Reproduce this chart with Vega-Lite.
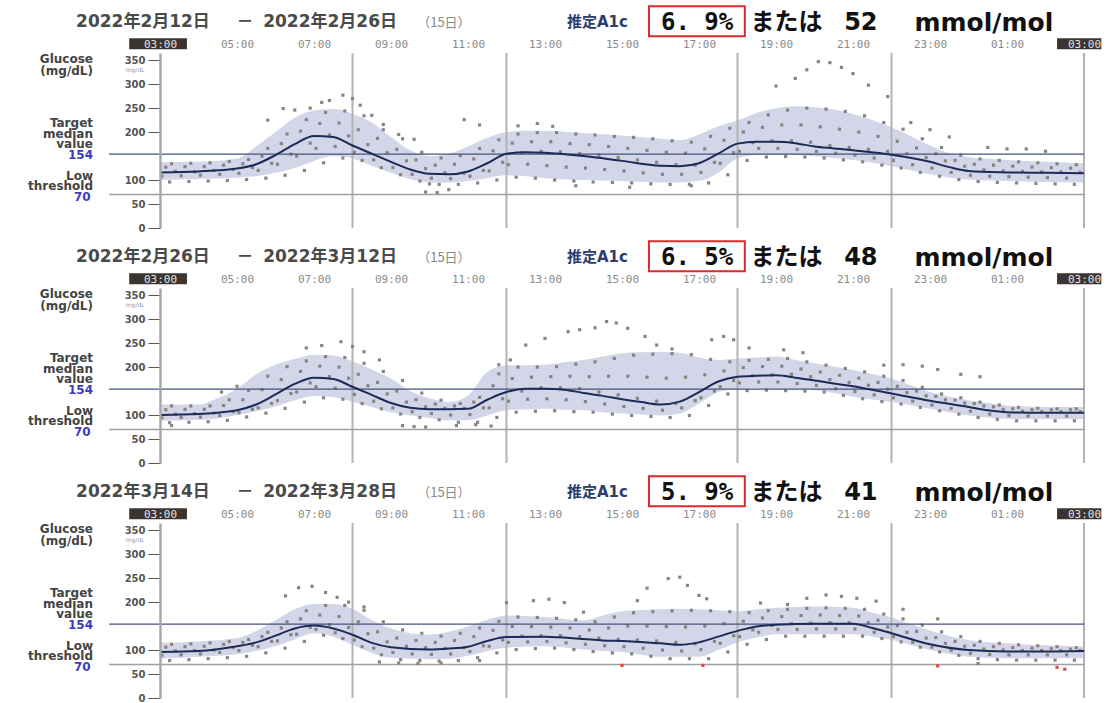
{
"$schema": "https://vega.github.io/schema/vega-lite/v6.json",
"padding": {"left": 28, "top": 5, "right": 0, "bottom": 0},
"config": {"view": {"stroke": null}},
"datasets": {"d": [
{"p":1,"d1":"2022年2月12日","d2":"2022年2月26日","a":"6. 9%","m":"52"},
{"p":2,"d1":"2022年2月26日","d2":"2022年3月12日","a":"6. 5%","m":"48"},
{"p":3,"d1":"2022年3月14日","d2":"2022年3月28日","a":"5. 9%","m":"41"},
{"p":1,"v":8},{"p":1,"v":12},{"p":1,"v":18},{"p":1,"v":22},{"p":1,"v":27},
{"p":2,"v":8},{"p":2,"v":12},{"p":2,"v":18},{"p":2,"v":22},{"p":2,"v":27},
{"p":3,"v":8},{"p":3,"v":12},{"p":3,"v":18},{"p":3,"v":22},{"p":3,"v":27},
{"p":1,"h":3,"lo":100,"md":116,"hi":137},{"p":1,"h":4,"lo":102,"md":118,"hi":138},{"p":1,"h":5,"lo":105,"md":124,"hi":145},{"p":1,"h":5.5,"lo":108,"md":133,"hi":170},{"p":1,"h":6,"lo":115,"md":152,"hi":200},{"p":1,"h":6.5,"lo":125,"md":175,"hi":230},{"p":1,"h":7,"lo":140,"md":192,"hi":245},{"p":1,"h":7.5,"lo":150,"md":190,"hi":248},{"p":1,"h":8,"lo":145,"md":172,"hi":238},{"p":1,"h":8.5,"lo":130,"md":155,"hi":220},{"p":1,"h":9,"lo":115,"md":138,"hi":190},{"p":1,"h":9.5,"lo":102,"md":122,"hi":162},{"p":1,"h":10,"lo":95,"md":113,"hi":150},{"p":1,"h":10.5,"lo":95,"md":112,"hi":155},{"p":1,"h":11,"lo":98,"md":118,"hi":170},{"p":1,"h":11.5,"lo":104,"md":135,"hi":188},{"p":1,"h":12,"lo":110,"md":155,"hi":200},{"p":1,"h":12.5,"lo":108,"md":158,"hi":203},{"p":1,"h":13,"lo":104,"md":157,"hi":203},{"p":1,"h":14,"lo":100,"md":150,"hi":198},{"p":1,"h":15,"lo":98,"md":140,"hi":193},{"p":1,"h":16,"lo":95,"md":130,"hi":186},{"p":1,"h":16.5,"lo":95,"md":129,"hi":183},{"p":1,"h":17,"lo":98,"md":135,"hi":195},{"p":1,"h":17.5,"lo":115,"md":155,"hi":212},{"p":1,"h":18,"lo":145,"md":176,"hi":224},{"p":1,"h":18.5,"lo":152,"md":180,"hi":240},{"p":1,"h":19,"lo":153,"md":180,"hi":250},{"p":1,"h":19.5,"lo":152,"md":177,"hi":254},{"p":1,"h":20,"lo":150,"md":170,"hi":252},{"p":1,"h":20.5,"lo":146,"md":166,"hi":247},{"p":1,"h":21,"lo":142,"md":162,"hi":238},{"p":1,"h":22,"lo":129,"md":153,"hi":210},{"p":1,"h":23,"lo":112,"md":138,"hi":172},{"p":1,"h":23.5,"lo":105,"md":127,"hi":156},{"p":1,"h":24,"lo":101,"md":119,"hi":148},{"p":1,"h":25,"lo":98,"md":116,"hi":142},{"p":1,"h":26,"lo":96,"md":115,"hi":138},{"p":1,"h":27,"lo":95,"md":114,"hi":135},
{"p":2,"h":3,"lo":88,"md":100,"hi":122},{"p":2,"h":4,"lo":90,"md":102,"hi":122},{"p":2,"h":4.5,"lo":93,"md":105,"hi":135},{"p":2,"h":5,"lo":100,"md":110,"hi":155},{"p":2,"h":5.5,"lo":108,"md":122,"hi":185},{"p":2,"h":6,"lo":118,"md":143,"hi":205},{"p":2,"h":6.5,"lo":131,"md":165,"hi":217},{"p":2,"h":7,"lo":140,"md":178,"hi":226},{"p":2,"h":7.5,"lo":137,"md":175,"hi":224},{"p":2,"h":8,"lo":128,"md":159,"hi":212},{"p":2,"h":8.5,"lo":117,"md":142,"hi":195},{"p":2,"h":9,"lo":106,"md":125,"hi":176},{"p":2,"h":9.5,"lo":99,"md":115,"hi":150},{"p":2,"h":10,"lo":94,"md":112,"hi":135},{"p":2,"h":10.5,"lo":89,"md":112,"hi":127},{"p":2,"h":11,"lo":89,"md":113,"hi":141},{"p":2,"h":11.5,"lo":99,"md":132,"hi":190},{"p":2,"h":12,"lo":110,"md":148,"hi":204},{"p":2,"h":12.5,"lo":112,"md":155,"hi":204},{"p":2,"h":13,"lo":113,"md":155,"hi":205},{"p":2,"h":13.5,"lo":111,"md":153,"hi":210},{"p":2,"h":14,"lo":110,"md":146,"hi":215},{"p":2,"h":14.5,"lo":106,"md":140,"hi":222},{"p":2,"h":15,"lo":103,"md":133,"hi":229},{"p":2,"h":15.5,"lo":101,"md":127,"hi":231},{"p":2,"h":16,"lo":99,"md":122,"hi":232},{"p":2,"h":16.5,"lo":103,"md":128,"hi":230},{"p":2,"h":17,"lo":124,"md":148,"hi":220},{"p":2,"h":17.5,"lo":148,"md":170,"hi":215},{"p":2,"h":18,"lo":155,"md":180,"hi":218},{"p":2,"h":18.5,"lo":156,"md":182,"hi":220},{"p":2,"h":19,"lo":155,"md":183,"hi":222},{"p":2,"h":19.5,"lo":154,"md":178,"hi":215},{"p":2,"h":20,"lo":152,"md":172,"hi":208},{"p":2,"h":21,"lo":138,"md":160,"hi":194},{"p":2,"h":22,"lo":127,"md":145,"hi":176},{"p":2,"h":23,"lo":113,"md":130,"hi":148},{"p":2,"h":24,"lo":99,"md":117,"hi":131},{"p":2,"h":24.5,"lo":95,"md":110,"hi":125},{"p":2,"h":25,"lo":92,"md":106,"hi":120},{"p":2,"h":26,"lo":92,"md":105,"hi":117},{"p":2,"h":27,"lo":92,"md":105,"hi":117},
{"p":3,"h":3,"lo":82,"md":96,"hi":115},{"p":3,"h":4,"lo":86,"md":98,"hi":118},{"p":3,"h":5,"lo":91,"md":108,"hi":125},{"p":3,"h":5.5,"lo":98,"md":116,"hi":140},{"p":3,"h":6,"lo":108,"md":130,"hi":162},{"p":3,"h":6.5,"lo":122,"md":145,"hi":185},{"p":3,"h":7,"lo":135,"md":151,"hi":196},{"p":3,"h":7.5,"lo":128,"md":145,"hi":196},{"p":3,"h":8,"lo":111,"md":132,"hi":186},{"p":3,"h":8.5,"lo":94,"md":115,"hi":162},{"p":3,"h":9,"lo":84,"md":106,"hi":145},{"p":3,"h":10,"lo":81,"md":101,"hi":132},{"p":3,"h":10.5,"lo":82,"md":103,"hi":138},{"p":3,"h":11,"lo":88,"md":107,"hi":149},{"p":3,"h":11.5,"lo":98,"md":119,"hi":163},{"p":3,"h":12,"lo":105,"md":127,"hi":172},{"p":3,"h":13,"lo":108,"md":128,"hi":169},{"p":3,"h":14,"lo":101,"md":123,"hi":162},{"p":3,"h":14.5,"lo":98,"md":120,"hi":172},{"p":3,"h":15,"lo":96,"md":119,"hi":181},{"p":3,"h":16,"lo":86,"md":114,"hi":185},{"p":3,"h":16.5,"lo":86,"md":111,"hi":186},{"p":3,"h":17,"lo":86,"md":116,"hi":185},{"p":3,"h":17.5,"lo":100,"md":128,"hi":183},{"p":3,"h":18,"lo":116,"md":140,"hi":181},{"p":3,"h":18.5,"lo":126,"md":149,"hi":185},{"p":3,"h":19,"lo":133,"md":153,"hi":188},{"p":3,"h":20,"lo":133,"md":155,"hi":191},{"p":3,"h":21,"lo":133,"md":155,"hi":188},{"p":3,"h":21.5,"lo":128,"md":146,"hi":178},{"p":3,"h":22,"lo":121,"md":135,"hi":168},{"p":3,"h":23,"lo":100,"md":112,"hi":141},{"p":3,"h":24,"lo":86,"md":100,"hi":121},{"p":3,"h":25,"lo":83,"md":97,"hi":114},{"p":3,"h":26,"lo":83,"md":97,"hi":110},{"p":3,"h":27,"lo":83,"md":98,"hi":107},
{"p":1,"h":3.25,"g":96},{"p":1,"h":3.05,"g":108},{"p":1,"h":3.4,"g":118},{"p":1,"h":3.15,"g":127},{"p":1,"h":3.3,"g":134},
{"p":1,"h":3.75,"g":97},{"p":1,"h":3.55,"g":109},{"p":1,"h":3.9,"g":117},{"p":1,"h":3.65,"g":128},{"p":1,"h":3.8,"g":135},
{"p":1,"h":4.25,"g":98},{"p":1,"h":4.05,"g":110},{"p":1,"h":4.4,"g":120},{"p":1,"h":4.15,"g":128},{"p":1,"h":4.3,"g":136},
{"p":1,"h":4.75,"g":99},{"p":1,"h":4.55,"g":112},{"p":1,"h":4.9,"g":122},{"p":1,"h":4.65,"g":131},{"p":1,"h":4.8,"g":139},
{"p":1,"h":5.25,"g":101},{"p":1,"h":5.05,"g":114},{"p":1,"h":5.4,"g":126},{"p":1,"h":5.15,"g":134},{"p":1,"h":5.3,"g":143},
{"p":1,"h":5.75,"g":104},{"p":1,"h":5.55,"g":120},{"p":1,"h":5.9,"g":135},{"p":1,"h":5.65,"g":150},{"p":1,"h":5.8,"g":166},
{"p":1,"h":6.25,"g":110},{"p":1,"h":6.05,"g":133},{"p":1,"h":6.4,"g":154},{"p":1,"h":6.15,"g":176},{"p":1,"h":6.3,"g":196},
{"p":1,"h":6.75,"g":120},{"p":1,"h":6.55,"g":150},{"p":1,"h":6.9,"g":177},{"p":1,"h":6.65,"g":202},{"p":1,"h":6.8,"g":226},
{"p":1,"h":7.25,"g":136},{"p":1,"h":7.05,"g":166},{"p":1,"h":7.4,"g":194},{"p":1,"h":7.15,"g":218},{"p":1,"h":7.3,"g":241},
{"p":1,"h":7.75,"g":146},{"p":1,"h":7.55,"g":170},{"p":1,"h":7.9,"g":192},{"p":1,"h":7.65,"g":219},{"p":1,"h":7.8,"g":244},
{"p":1,"h":8.25,"g":141},{"p":1,"h":8.05,"g":158},{"p":1,"h":8.4,"g":174},{"p":1,"h":8.15,"g":205},{"p":1,"h":8.3,"g":234},
{"p":1,"h":8.75,"g":126},{"p":1,"h":8.55,"g":142},{"p":1,"h":8.9,"g":157},{"p":1,"h":8.65,"g":187},{"p":1,"h":8.8,"g":216},
{"p":1,"h":9.25,"g":111},{"p":1,"h":9.05,"g":126},{"p":1,"h":9.4,"g":140},{"p":1,"h":9.15,"g":164},{"p":1,"h":9.3,"g":186},
{"p":1,"h":9.75,"g":98},{"p":1,"h":9.55,"g":112},{"p":1,"h":9.9,"g":124},{"p":1,"h":9.65,"g":142},{"p":1,"h":9.8,"g":158},
{"p":1,"h":10.25,"g":91},{"p":1,"h":10.05,"g":104},{"p":1,"h":10.4,"g":115},{"p":1,"h":10.15,"g":131},{"p":1,"h":10.3,"g":146},
{"p":1,"h":10.75,"g":91},{"p":1,"h":10.55,"g":103},{"p":1,"h":10.9,"g":114},{"p":1,"h":10.65,"g":133},{"p":1,"h":10.8,"g":151},
{"p":1,"h":11.25,"g":94},{"p":1,"h":11.05,"g":108},{"p":1,"h":11.4,"g":120},{"p":1,"h":11.15,"g":144},{"p":1,"h":11.3,"g":166},
{"p":1,"h":11.75,"g":100},{"p":1,"h":11.55,"g":119},{"p":1,"h":11.9,"g":137},{"p":1,"h":11.65,"g":161},{"p":1,"h":11.8,"g":184},
{"p":1,"h":12.25,"g":106},{"p":1,"h":12.05,"g":132},{"p":1,"h":12.4,"g":157},{"p":1,"h":12.15,"g":177},{"p":1,"h":12.3,"g":196},
{"p":1,"h":12.75,"g":104},{"p":1,"h":12.55,"g":133},{"p":1,"h":12.9,"g":160},{"p":1,"h":12.65,"g":180},{"p":1,"h":12.8,"g":199},
{"p":1,"h":13.25,"g":100},{"p":1,"h":13.05,"g":130},{"p":1,"h":13.4,"g":159},{"p":1,"h":13.15,"g":180},{"p":1,"h":13.3,"g":199},
{"p":1,"h":13.75,"g":98},{"p":1,"h":13.55,"g":127},{"p":1,"h":13.9,"g":155},{"p":1,"h":13.65,"g":176},{"p":1,"h":13.8,"g":196},
{"p":1,"h":14.25,"g":96},{"p":1,"h":14.05,"g":125},{"p":1,"h":14.4,"g":152},{"p":1,"h":14.15,"g":174},{"p":1,"h":14.3,"g":194},
{"p":1,"h":14.75,"g":95},{"p":1,"h":14.55,"g":122},{"p":1,"h":14.9,"g":147},{"p":1,"h":14.65,"g":170},{"p":1,"h":14.8,"g":191},
{"p":1,"h":15.25,"g":94},{"p":1,"h":15.05,"g":119},{"p":1,"h":15.4,"g":142},{"p":1,"h":15.15,"g":166},{"p":1,"h":15.3,"g":189},
{"p":1,"h":15.75,"g":92},{"p":1,"h":15.55,"g":115},{"p":1,"h":15.9,"g":137},{"p":1,"h":15.65,"g":162},{"p":1,"h":15.8,"g":186},
{"p":1,"h":16.25,"g":91},{"p":1,"h":16.05,"g":112},{"p":1,"h":16.4,"g":132},{"p":1,"h":16.15,"g":158},{"p":1,"h":16.3,"g":182},
{"p":1,"h":16.75,"g":91},{"p":1,"h":16.55,"g":112},{"p":1,"h":16.9,"g":131},{"p":1,"h":16.65,"g":156},{"p":1,"h":16.8,"g":179},
{"p":1,"h":17.25,"g":94},{"p":1,"h":17.05,"g":116},{"p":1,"h":17.4,"g":137},{"p":1,"h":17.15,"g":165},{"p":1,"h":17.3,"g":191},
{"p":1,"h":17.75,"g":111},{"p":1,"h":17.55,"g":135},{"p":1,"h":17.9,"g":157},{"p":1,"h":17.65,"g":183},{"p":1,"h":17.8,"g":208},
{"p":1,"h":18.25,"g":141},{"p":1,"h":18.05,"g":160},{"p":1,"h":18.4,"g":178},{"p":1,"h":18.15,"g":200},{"p":1,"h":18.3,"g":220},
{"p":1,"h":18.75,"g":148},{"p":1,"h":18.55,"g":166},{"p":1,"h":18.9,"g":182},{"p":1,"h":18.65,"g":210},{"p":1,"h":18.8,"g":236},
{"p":1,"h":19.25,"g":149},{"p":1,"h":19.05,"g":166},{"p":1,"h":19.4,"g":182},{"p":1,"h":19.15,"g":215},{"p":1,"h":19.3,"g":246},
{"p":1,"h":19.75,"g":148},{"p":1,"h":19.55,"g":164},{"p":1,"h":19.9,"g":179},{"p":1,"h":19.65,"g":215},{"p":1,"h":19.8,"g":250},
{"p":1,"h":20.25,"g":146},{"p":1,"h":20.05,"g":160},{"p":1,"h":20.4,"g":172},{"p":1,"h":20.15,"g":211},{"p":1,"h":20.3,"g":248},
{"p":1,"h":20.75,"g":142},{"p":1,"h":20.55,"g":156},{"p":1,"h":20.9,"g":168},{"p":1,"h":20.65,"g":206},{"p":1,"h":20.8,"g":243},
{"p":1,"h":21.25,"g":138},{"p":1,"h":21.05,"g":152},{"p":1,"h":21.4,"g":164},{"p":1,"h":21.15,"g":200},{"p":1,"h":21.3,"g":234},
{"p":1,"h":21.75,"g":131},{"p":1,"h":21.55,"g":146},{"p":1,"h":21.9,"g":160},{"p":1,"h":21.65,"g":191},{"p":1,"h":21.8,"g":220},
{"p":1,"h":22.25,"g":125},{"p":1,"h":22.05,"g":141},{"p":1,"h":22.4,"g":155},{"p":1,"h":22.15,"g":181},{"p":1,"h":22.3,"g":206},
{"p":1,"h":22.75,"g":116},{"p":1,"h":22.55,"g":132},{"p":1,"h":22.9,"g":147},{"p":1,"h":22.65,"g":167},{"p":1,"h":22.8,"g":186},
{"p":1,"h":23.25,"g":108},{"p":1,"h":23.05,"g":125},{"p":1,"h":23.4,"g":140},{"p":1,"h":23.15,"g":155},{"p":1,"h":23.3,"g":168},
{"p":1,"h":23.75,"g":101},{"p":1,"h":23.55,"g":116},{"p":1,"h":23.9,"g":129},{"p":1,"h":23.65,"g":141},{"p":1,"h":23.8,"g":152},
{"p":1,"h":24.25,"g":97},{"p":1,"h":24.05,"g":110},{"p":1,"h":24.4,"g":121},{"p":1,"h":24.15,"g":133},{"p":1,"h":24.3,"g":144},
{"p":1,"h":24.75,"g":95},{"p":1,"h":24.55,"g":108},{"p":1,"h":24.9,"g":119},{"p":1,"h":24.65,"g":131},{"p":1,"h":24.8,"g":141},
{"p":1,"h":25.25,"g":94},{"p":1,"h":25.05,"g":107},{"p":1,"h":25.4,"g":118},{"p":1,"h":25.15,"g":129},{"p":1,"h":25.3,"g":138},
{"p":1,"h":25.75,"g":93},{"p":1,"h":25.55,"g":106},{"p":1,"h":25.9,"g":117},{"p":1,"h":25.65,"g":127},{"p":1,"h":25.8,"g":136},
{"p":1,"h":26.25,"g":92},{"p":1,"h":26.05,"g":105},{"p":1,"h":26.4,"g":117},{"p":1,"h":26.15,"g":126},{"p":1,"h":26.3,"g":134},
{"p":1,"h":26.75,"g":91},{"p":1,"h":26.55,"g":104},{"p":1,"h":26.9,"g":116},{"p":1,"h":26.65,"g":125},{"p":1,"h":26.8,"g":132},
{"p":1,"h":5.8,"g":225},{"p":1,"h":6.2,"g":249},{"p":1,"h":6.5,"g":246},{"p":1,"h":6.9,"g":250},{"p":1,"h":7.2,"g":262},{"p":1,"h":7.4,"g":266},{"p":1,"h":7.75,"g":277},{"p":1,"h":8.0,"g":270},{"p":1,"h":8.2,"g":256},{"p":1,"h":8.5,"g":235},{"p":1,"h":8.8,"g":205},{"p":1,"h":9.2,"g":195},{"p":1,"h":9.6,"g":185},{"p":1,"h":9.9,"g":75},{"p":1,"h":10.2,"g":74},{"p":1,"h":10.5,"g":80},{"p":1,"h":10.9,"g":226},{"p":1,"h":11.3,"g":215},{"p":1,"h":12.3,"g":213},{"p":1,"h":12.8,"g":218},{"p":1,"h":13.2,"g":212},{"p":1,"h":15.2,"g":85},{"p":1,"h":16.8,"g":88},{"p":1,"h":19.0,"g":296},{"p":1,"h":19.5,"g":312},{"p":1,"h":19.8,"g":330},{"p":1,"h":20.1,"g":347},{"p":1,"h":20.4,"g":345},{"p":1,"h":20.7,"g":335},{"p":1,"h":21.0,"g":322},{"p":1,"h":21.4,"g":298},{"p":1,"h":21.9,"g":274},{"p":1,"h":22.5,"g":220},{"p":1,"h":23.0,"g":205},{"p":1,"h":23.5,"g":190},{"p":1,"h":24.5,"g":168},{"p":1,"h":25.0,"g":165},{"p":1,"h":25.5,"g":165},{"p":1,"h":26.0,"g":160},{"p":1,"h":10.0,"g":92},{"p":1,"h":13.8,"g":88},
{"p":2,"h":3.25,"g":84},{"p":2,"h":3.05,"g":94},{"p":2,"h":3.4,"g":102},{"p":2,"h":3.15,"g":111},{"p":2,"h":3.3,"g":119},
{"p":2,"h":3.75,"g":85},{"p":2,"h":3.55,"g":95},{"p":2,"h":3.9,"g":103},{"p":2,"h":3.65,"g":112},{"p":2,"h":3.8,"g":119},
{"p":2,"h":4.25,"g":86},{"p":2,"h":4.05,"g":96},{"p":2,"h":4.4,"g":104},{"p":2,"h":4.15,"g":112},{"p":2,"h":4.3,"g":119},
{"p":2,"h":4.75,"g":89},{"p":2,"h":4.55,"g":99},{"p":2,"h":4.9,"g":107},{"p":2,"h":4.65,"g":120},{"p":2,"h":4.8,"g":132},
{"p":2,"h":5.25,"g":96},{"p":2,"h":5.05,"g":105},{"p":2,"h":5.4,"g":112},{"p":2,"h":5.15,"g":132},{"p":2,"h":5.3,"g":151},
{"p":2,"h":5.75,"g":104},{"p":2,"h":5.55,"g":115},{"p":2,"h":5.9,"g":124},{"p":2,"h":5.65,"g":153},{"p":2,"h":5.8,"g":181},
{"p":2,"h":6.25,"g":114},{"p":2,"h":6.05,"g":130},{"p":2,"h":6.4,"g":145},{"p":2,"h":6.15,"g":174},{"p":2,"h":6.3,"g":201},
{"p":2,"h":6.75,"g":127},{"p":2,"h":6.55,"g":148},{"p":2,"h":6.9,"g":167},{"p":2,"h":6.65,"g":191},{"p":2,"h":6.8,"g":213},
{"p":2,"h":7.25,"g":136},{"p":2,"h":7.05,"g":159},{"p":2,"h":7.4,"g":180},{"p":2,"h":7.15,"g":202},{"p":2,"h":7.3,"g":222},
{"p":2,"h":7.75,"g":133},{"p":2,"h":7.55,"g":156},{"p":2,"h":7.9,"g":177},{"p":2,"h":7.65,"g":200},{"p":2,"h":7.8,"g":220},
{"p":2,"h":8.25,"g":124},{"p":2,"h":8.05,"g":143},{"p":2,"h":8.4,"g":161},{"p":2,"h":8.15,"g":185},{"p":2,"h":8.3,"g":208},
{"p":2,"h":8.75,"g":113},{"p":2,"h":8.55,"g":129},{"p":2,"h":8.9,"g":144},{"p":2,"h":8.65,"g":168},{"p":2,"h":8.8,"g":191},
{"p":2,"h":9.25,"g":102},{"p":2,"h":9.05,"g":115},{"p":2,"h":9.4,"g":127},{"p":2,"h":9.15,"g":150},{"p":2,"h":9.3,"g":172},
{"p":2,"h":9.75,"g":95},{"p":2,"h":9.55,"g":107},{"p":2,"h":9.9,"g":117},{"p":2,"h":9.65,"g":132},{"p":2,"h":9.8,"g":146},
{"p":2,"h":10.25,"g":90},{"p":2,"h":10.05,"g":103},{"p":2,"h":10.4,"g":114},{"p":2,"h":10.15,"g":123},{"p":2,"h":10.3,"g":131},
{"p":2,"h":10.75,"g":85},{"p":2,"h":10.55,"g":100},{"p":2,"h":10.9,"g":114},{"p":2,"h":10.65,"g":119},{"p":2,"h":10.8,"g":124},
{"p":2,"h":11.25,"g":85},{"p":2,"h":11.05,"g":101},{"p":2,"h":11.4,"g":115},{"p":2,"h":11.15,"g":127},{"p":2,"h":11.3,"g":137},
{"p":2,"h":11.75,"g":95},{"p":2,"h":11.55,"g":115},{"p":2,"h":11.9,"g":134},{"p":2,"h":11.65,"g":161},{"p":2,"h":11.8,"g":186},
{"p":2,"h":12.25,"g":106},{"p":2,"h":12.05,"g":129},{"p":2,"h":12.4,"g":150},{"p":2,"h":12.15,"g":176},{"p":2,"h":12.3,"g":200},
{"p":2,"h":12.75,"g":108},{"p":2,"h":12.55,"g":133},{"p":2,"h":12.9,"g":157},{"p":2,"h":12.65,"g":179},{"p":2,"h":12.8,"g":200},
{"p":2,"h":13.25,"g":109},{"p":2,"h":13.05,"g":134},{"p":2,"h":13.4,"g":157},{"p":2,"h":13.15,"g":180},{"p":2,"h":13.3,"g":201},
{"p":2,"h":13.75,"g":107},{"p":2,"h":13.55,"g":132},{"p":2,"h":13.9,"g":155},{"p":2,"h":13.65,"g":181},{"p":2,"h":13.8,"g":206},
{"p":2,"h":14.25,"g":106},{"p":2,"h":14.05,"g":128},{"p":2,"h":14.4,"g":148},{"p":2,"h":14.15,"g":180},{"p":2,"h":14.3,"g":211},
{"p":2,"h":14.75,"g":102},{"p":2,"h":14.55,"g":123},{"p":2,"h":14.9,"g":142},{"p":2,"h":14.65,"g":181},{"p":2,"h":14.8,"g":218},
{"p":2,"h":15.25,"g":99},{"p":2,"h":15.05,"g":118},{"p":2,"h":15.4,"g":135},{"p":2,"h":15.15,"g":181},{"p":2,"h":15.3,"g":225},
{"p":2,"h":15.75,"g":97},{"p":2,"h":15.55,"g":114},{"p":2,"h":15.9,"g":129},{"p":2,"h":15.65,"g":179},{"p":2,"h":15.8,"g":227},
{"p":2,"h":16.25,"g":95},{"p":2,"h":16.05,"g":110},{"p":2,"h":16.4,"g":124},{"p":2,"h":16.15,"g":177},{"p":2,"h":16.3,"g":228},
{"p":2,"h":16.75,"g":99},{"p":2,"h":16.55,"g":115},{"p":2,"h":16.9,"g":130},{"p":2,"h":16.65,"g":179},{"p":2,"h":16.8,"g":226},
{"p":2,"h":17.25,"g":120},{"p":2,"h":17.05,"g":136},{"p":2,"h":17.4,"g":150},{"p":2,"h":17.15,"g":184},{"p":2,"h":17.3,"g":216},
{"p":2,"h":17.75,"g":144},{"p":2,"h":17.55,"g":159},{"p":2,"h":17.9,"g":172},{"p":2,"h":17.65,"g":192},{"p":2,"h":17.8,"g":211},
{"p":2,"h":18.25,"g":151},{"p":2,"h":18.05,"g":167},{"p":2,"h":18.4,"g":182},{"p":2,"h":18.15,"g":199},{"p":2,"h":18.3,"g":214},
{"p":2,"h":18.75,"g":152},{"p":2,"h":18.55,"g":169},{"p":2,"h":18.9,"g":184},{"p":2,"h":18.65,"g":201},{"p":2,"h":18.8,"g":216},
{"p":2,"h":19.25,"g":151},{"p":2,"h":19.05,"g":169},{"p":2,"h":19.4,"g":185},{"p":2,"h":19.15,"g":202},{"p":2,"h":19.3,"g":218},
{"p":2,"h":19.75,"g":150},{"p":2,"h":19.55,"g":166},{"p":2,"h":19.9,"g":180},{"p":2,"h":19.65,"g":196},{"p":2,"h":19.8,"g":211},
{"p":2,"h":20.25,"g":148},{"p":2,"h":20.05,"g":162},{"p":2,"h":20.4,"g":174},{"p":2,"h":20.15,"g":190},{"p":2,"h":20.3,"g":204},
{"p":2,"h":20.75,"g":141},{"p":2,"h":20.55,"g":155},{"p":2,"h":20.9,"g":168},{"p":2,"h":20.65,"g":183},{"p":2,"h":20.8,"g":197},
{"p":2,"h":21.25,"g":134},{"p":2,"h":21.05,"g":149},{"p":2,"h":21.4,"g":162},{"p":2,"h":21.15,"g":177},{"p":2,"h":21.3,"g":190},
{"p":2,"h":21.75,"g":128},{"p":2,"h":21.55,"g":142},{"p":2,"h":21.9,"g":154},{"p":2,"h":21.65,"g":168},{"p":2,"h":21.8,"g":181},
{"p":2,"h":22.25,"g":123},{"p":2,"h":22.05,"g":136},{"p":2,"h":22.4,"g":147},{"p":2,"h":22.15,"g":160},{"p":2,"h":22.3,"g":172},
{"p":2,"h":22.75,"g":116},{"p":2,"h":22.55,"g":129},{"p":2,"h":22.9,"g":140},{"p":2,"h":22.65,"g":150},{"p":2,"h":22.8,"g":158},
{"p":2,"h":23.25,"g":109},{"p":2,"h":23.05,"g":121},{"p":2,"h":23.4,"g":132},{"p":2,"h":23.15,"g":139},{"p":2,"h":23.3,"g":144},
{"p":2,"h":23.75,"g":102},{"p":2,"h":23.55,"g":114},{"p":2,"h":23.9,"g":125},{"p":2,"h":23.65,"g":131},{"p":2,"h":23.8,"g":136},
{"p":2,"h":24.25,"g":95},{"p":2,"h":24.05,"g":108},{"p":2,"h":24.4,"g":119},{"p":2,"h":24.15,"g":124},{"p":2,"h":24.3,"g":127},
{"p":2,"h":24.75,"g":91},{"p":2,"h":24.55,"g":102},{"p":2,"h":24.9,"g":112},{"p":2,"h":24.65,"g":117},{"p":2,"h":24.8,"g":121},
{"p":2,"h":25.25,"g":88},{"p":2,"h":25.05,"g":99},{"p":2,"h":25.4,"g":108},{"p":2,"h":25.15,"g":113},{"p":2,"h":25.3,"g":116},
{"p":2,"h":25.75,"g":88},{"p":2,"h":25.55,"g":98},{"p":2,"h":25.9,"g":107},{"p":2,"h":25.65,"g":111},{"p":2,"h":25.8,"g":114},
{"p":2,"h":26.25,"g":88},{"p":2,"h":26.05,"g":98},{"p":2,"h":26.4,"g":107},{"p":2,"h":26.15,"g":111},{"p":2,"h":26.3,"g":113},
{"p":2,"h":26.75,"g":88},{"p":2,"h":26.55,"g":98},{"p":2,"h":26.9,"g":107},{"p":2,"h":26.65,"g":111},{"p":2,"h":26.8,"g":113},
{"p":2,"h":6.8,"g":240},{"p":2,"h":7.2,"g":245},{"p":2,"h":7.7,"g":253},{"p":2,"h":8.0,"g":243},{"p":2,"h":8.3,"g":232},{"p":2,"h":8.7,"g":215},{"p":2,"h":9.3,"g":78},{"p":2,"h":9.6,"g":76},{"p":2,"h":9.9,"g":75},{"p":2,"h":10.7,"g":78},{"p":2,"h":11.2,"g":80},{"p":2,"h":11.6,"g":77},{"p":2,"h":12.5,"g":246},{"p":2,"h":13.0,"g":260},{"p":2,"h":13.6,"g":274},{"p":2,"h":13.9,"g":278},{"p":2,"h":14.3,"g":282},{"p":2,"h":14.6,"g":295},{"p":2,"h":14.85,"g":292},{"p":2,"h":15.15,"g":281},{"p":2,"h":15.6,"g":264},{"p":2,"h":15.9,"g":246},{"p":2,"h":16.3,"g":238},{"p":2,"h":17.33,"g":257},{"p":2,"h":17.64,"g":264},{"p":2,"h":17.9,"g":257},{"p":2,"h":18.3,"g":240},{"p":2,"h":19.2,"g":236},{"p":2,"h":19.7,"g":230},{"p":2,"h":21.8,"g":204},{"p":2,"h":22.3,"g":205},{"p":2,"h":22.8,"g":202},{"p":2,"h":23.2,"g":195},{"p":2,"h":23.8,"g":185},{"p":2,"h":24.3,"g":180},{"p":2,"h":11.8,"g":205},{"p":2,"h":12.1,"g":215},{"p":2,"h":5.0,"g":160},{"p":2,"h":4.6,"g":148},{"p":2,"h":3.3,"g":78},
{"p":3,"h":3.25,"g":78},{"p":3,"h":3.05,"g":89},{"p":3,"h":3.4,"g":98},{"p":3,"h":3.15,"g":106},{"p":3,"h":3.3,"g":112},
{"p":3,"h":3.75,"g":80},{"p":3,"h":3.55,"g":90},{"p":3,"h":3.9,"g":99},{"p":3,"h":3.65,"g":107},{"p":3,"h":3.8,"g":113},
{"p":3,"h":4.25,"g":82},{"p":3,"h":4.05,"g":92},{"p":3,"h":4.4,"g":100},{"p":3,"h":4.15,"g":108},{"p":3,"h":4.3,"g":115},
{"p":3,"h":4.75,"g":84},{"p":3,"h":4.55,"g":95},{"p":3,"h":4.9,"g":105},{"p":3,"h":4.65,"g":112},{"p":3,"h":4.8,"g":118},
{"p":3,"h":5.25,"g":87},{"p":3,"h":5.05,"g":99},{"p":3,"h":5.4,"g":110},{"p":3,"h":5.15,"g":116},{"p":3,"h":5.3,"g":122},
{"p":3,"h":5.75,"g":94},{"p":3,"h":5.55,"g":107},{"p":3,"h":5.9,"g":118},{"p":3,"h":5.65,"g":128},{"p":3,"h":5.8,"g":137},
{"p":3,"h":6.25,"g":104},{"p":3,"h":6.05,"g":119},{"p":3,"h":6.4,"g":132},{"p":3,"h":6.15,"g":146},{"p":3,"h":6.3,"g":159},
{"p":3,"h":6.75,"g":118},{"p":3,"h":6.55,"g":133},{"p":3,"h":6.9,"g":147},{"p":3,"h":6.65,"g":165},{"p":3,"h":6.8,"g":182},
{"p":3,"h":7.25,"g":131},{"p":3,"h":7.05,"g":143},{"p":3,"h":7.4,"g":153},{"p":3,"h":7.15,"g":173},{"p":3,"h":7.3,"g":193},
{"p":3,"h":7.75,"g":124},{"p":3,"h":7.55,"g":136},{"p":3,"h":7.9,"g":147},{"p":3,"h":7.65,"g":170},{"p":3,"h":7.8,"g":193},
{"p":3,"h":8.25,"g":107},{"p":3,"h":8.05,"g":121},{"p":3,"h":8.4,"g":134},{"p":3,"h":8.15,"g":159},{"p":3,"h":8.3,"g":183},
{"p":3,"h":8.75,"g":90},{"p":3,"h":8.55,"g":104},{"p":3,"h":8.9,"g":117},{"p":3,"h":8.65,"g":138},{"p":3,"h":8.8,"g":159},
{"p":3,"h":9.25,"g":80},{"p":3,"h":9.05,"g":95},{"p":3,"h":9.4,"g":108},{"p":3,"h":9.15,"g":125},{"p":3,"h":9.3,"g":142},
{"p":3,"h":9.75,"g":78},{"p":3,"h":9.55,"g":92},{"p":3,"h":9.9,"g":105},{"p":3,"h":9.65,"g":120},{"p":3,"h":9.8,"g":135},
{"p":3,"h":10.25,"g":77},{"p":3,"h":10.05,"g":91},{"p":3,"h":10.4,"g":103},{"p":3,"h":10.15,"g":116},{"p":3,"h":10.3,"g":129},
{"p":3,"h":10.75,"g":78},{"p":3,"h":10.55,"g":92},{"p":3,"h":10.9,"g":105},{"p":3,"h":10.65,"g":120},{"p":3,"h":10.8,"g":135},
{"p":3,"h":11.25,"g":84},{"p":3,"h":11.05,"g":97},{"p":3,"h":11.4,"g":109},{"p":3,"h":11.15,"g":128},{"p":3,"h":11.3,"g":146},
{"p":3,"h":11.75,"g":94},{"p":3,"h":11.55,"g":108},{"p":3,"h":11.9,"g":121},{"p":3,"h":11.65,"g":141},{"p":3,"h":11.8,"g":160},
{"p":3,"h":12.25,"g":101},{"p":3,"h":12.05,"g":116},{"p":3,"h":12.4,"g":129},{"p":3,"h":12.15,"g":149},{"p":3,"h":12.3,"g":169},
{"p":3,"h":12.75,"g":103},{"p":3,"h":12.55,"g":117},{"p":3,"h":12.9,"g":130},{"p":3,"h":12.65,"g":149},{"p":3,"h":12.8,"g":168},
{"p":3,"h":13.25,"g":104},{"p":3,"h":13.05,"g":118},{"p":3,"h":13.4,"g":130},{"p":3,"h":13.15,"g":148},{"p":3,"h":13.3,"g":166},
{"p":3,"h":13.75,"g":101},{"p":3,"h":13.55,"g":115},{"p":3,"h":13.9,"g":128},{"p":3,"h":13.65,"g":146},{"p":3,"h":13.8,"g":163},
{"p":3,"h":14.25,"g":97},{"p":3,"h":14.05,"g":112},{"p":3,"h":14.4,"g":125},{"p":3,"h":14.15,"g":142},{"p":3,"h":14.3,"g":159},
{"p":3,"h":14.75,"g":94},{"p":3,"h":14.55,"g":109},{"p":3,"h":14.9,"g":122},{"p":3,"h":14.65,"g":146},{"p":3,"h":14.8,"g":169},
{"p":3,"h":15.25,"g":92},{"p":3,"h":15.05,"g":107},{"p":3,"h":15.4,"g":121},{"p":3,"h":15.15,"g":150},{"p":3,"h":15.3,"g":178},
{"p":3,"h":15.75,"g":87},{"p":3,"h":15.55,"g":104},{"p":3,"h":15.9,"g":119},{"p":3,"h":15.65,"g":150},{"p":3,"h":15.8,"g":180},
{"p":3,"h":16.25,"g":82},{"p":3,"h":16.05,"g":100},{"p":3,"h":16.4,"g":116},{"p":3,"h":16.15,"g":149},{"p":3,"h":16.3,"g":182},
{"p":3,"h":16.75,"g":82},{"p":3,"h":16.55,"g":98},{"p":3,"h":16.9,"g":113},{"p":3,"h":16.65,"g":148},{"p":3,"h":16.8,"g":183},
{"p":3,"h":17.25,"g":82},{"p":3,"h":17.05,"g":101},{"p":3,"h":17.4,"g":118},{"p":3,"h":17.15,"g":150},{"p":3,"h":17.3,"g":182},
{"p":3,"h":17.75,"g":96},{"p":3,"h":17.55,"g":114},{"p":3,"h":17.9,"g":130},{"p":3,"h":17.65,"g":155},{"p":3,"h":17.8,"g":180},
{"p":3,"h":18.25,"g":112},{"p":3,"h":18.05,"g":128},{"p":3,"h":18.4,"g":142},{"p":3,"h":18.15,"g":160},{"p":3,"h":18.3,"g":178},
{"p":3,"h":18.75,"g":122},{"p":3,"h":18.55,"g":137},{"p":3,"h":18.9,"g":151},{"p":3,"h":18.65,"g":167},{"p":3,"h":18.8,"g":182},
{"p":3,"h":19.25,"g":129},{"p":3,"h":19.05,"g":143},{"p":3,"h":19.4,"g":155},{"p":3,"h":19.15,"g":170},{"p":3,"h":19.3,"g":185},
{"p":3,"h":19.75,"g":129},{"p":3,"h":19.55,"g":143},{"p":3,"h":19.9,"g":156},{"p":3,"h":19.65,"g":172},{"p":3,"h":19.8,"g":187},
{"p":3,"h":20.25,"g":129},{"p":3,"h":20.05,"g":144},{"p":3,"h":20.4,"g":157},{"p":3,"h":20.15,"g":173},{"p":3,"h":20.3,"g":188},
{"p":3,"h":20.75,"g":129},{"p":3,"h":20.55,"g":144},{"p":3,"h":20.9,"g":157},{"p":3,"h":20.65,"g":172},{"p":3,"h":20.8,"g":187},
{"p":3,"h":21.25,"g":129},{"p":3,"h":21.05,"g":144},{"p":3,"h":21.4,"g":157},{"p":3,"h":21.15,"g":171},{"p":3,"h":21.3,"g":185},
{"p":3,"h":21.75,"g":124},{"p":3,"h":21.55,"g":137},{"p":3,"h":21.9,"g":148},{"p":3,"h":21.65,"g":162},{"p":3,"h":21.8,"g":175},
{"p":3,"h":22.25,"g":117},{"p":3,"h":22.05,"g":128},{"p":3,"h":22.4,"g":137},{"p":3,"h":22.15,"g":151},{"p":3,"h":22.3,"g":165},
{"p":3,"h":22.75,"g":106},{"p":3,"h":22.55,"g":116},{"p":3,"h":22.9,"g":125},{"p":3,"h":22.65,"g":139},{"p":3,"h":22.8,"g":152},
{"p":3,"h":23.25,"g":96},{"p":3,"h":23.05,"g":106},{"p":3,"h":23.4,"g":114},{"p":3,"h":23.15,"g":126},{"p":3,"h":23.3,"g":138},
{"p":3,"h":23.75,"g":89},{"p":3,"h":23.55,"g":99},{"p":3,"h":23.9,"g":108},{"p":3,"h":23.65,"g":118},{"p":3,"h":23.8,"g":128},
{"p":3,"h":24.25,"g":82},{"p":3,"h":24.05,"g":93},{"p":3,"h":24.4,"g":102},{"p":3,"h":24.15,"g":110},{"p":3,"h":24.3,"g":118},
{"p":3,"h":24.75,"g":80},{"p":3,"h":24.55,"g":91},{"p":3,"h":24.9,"g":100},{"p":3,"h":24.65,"g":107},{"p":3,"h":24.8,"g":114},
{"p":3,"h":25.25,"g":79},{"p":3,"h":25.05,"g":90},{"p":3,"h":25.4,"g":99},{"p":3,"h":25.15,"g":105},{"p":3,"h":25.3,"g":111},
{"p":3,"h":25.75,"g":79},{"p":3,"h":25.55,"g":90},{"p":3,"h":25.9,"g":99},{"p":3,"h":25.65,"g":104},{"p":3,"h":25.8,"g":109},
{"p":3,"h":26.25,"g":79},{"p":3,"h":26.05,"g":90},{"p":3,"h":26.4,"g":99},{"p":3,"h":26.15,"g":103},{"p":3,"h":26.3,"g":107},
{"p":3,"h":26.75,"g":79},{"p":3,"h":26.55,"g":90},{"p":3,"h":26.9,"g":99},{"p":3,"h":26.65,"g":102},{"p":3,"h":26.8,"g":105},
{"p":3,"h":6.26,"g":213},{"p":3,"h":6.6,"g":230},{"p":3,"h":6.95,"g":233},{"p":3,"h":7.3,"g":220},{"p":3,"h":7.6,"g":210},{"p":3,"h":7.9,"g":200},{"p":3,"h":8.3,"g":190},{"p":3,"h":8.7,"g":75},{"p":3,"h":9.2,"g":73},{"p":3,"h":9.7,"g":72},{"p":3,"h":10.3,"g":73},{"p":3,"h":11.3,"g":78},{"p":3,"h":12.0,"g":199},{"p":3,"h":12.7,"g":203},{"p":3,"h":13.1,"g":206},{"p":3,"h":13.5,"g":199},{"p":3,"h":14.0,"g":179},{"p":3,"h":15.4,"g":203},{"p":3,"h":15.65,"g":229},{"p":3,"h":16.2,"g":249},{"p":3,"h":16.5,"g":252},{"p":3,"h":16.7,"g":235},{"p":3,"h":17.0,"g":214},{"p":3,"h":17.2,"g":207},{"p":3,"h":17.1,"g":68},{"p":3,"h":15.0,"g":68},{"p":3,"h":19.8,"g":208},{"p":3,"h":20.3,"g":215},{"p":3,"h":20.7,"g":212},{"p":3,"h":21.1,"g":208},{"p":3,"h":21.6,"g":202},{"p":3,"h":22.3,"g":185},{"p":3,"h":23.2,"g":67},{"p":3,"h":24.25,"g":72},{"p":3,"h":26.3,"g":64},{"p":3,"h":26.5,"g":60},{"p":3,"h":19.3,"g":195},{"p":3,"h":18.6,"g":198},{"p":3,"h":23.2,"g":165}
]},
"spacing": 60,
"bounds": "flush",
"vconcat": [
{"data": {"name": "d"}, "transform": [{"filter": "datum.p == 1"}], "width": 924, "height": 175, "resolve": {"axis": {"x": "independent", "y": "independent"}}, "layer": [
{"transform": [{"filter": "isValid(datum.md)"}], "mark": {"type": "area", "interpolate": "monotone", "color": "#d2d6e8"},
 "encoding": {
  "x": {"field": "h", "type": "quantitative", "scale": {"domain": [3, 27], "nice": false, "zero": false},
   "axis": {"orient": "top", "values": [3,5,7,9,11,13,15,17,19,21,23,25,27], "labelExpr": "(datum.value % 24 < 10 ? '0' : '') + (datum.value % 24) + ':00'", "title": null, "grid": false, "domain": false, "ticks": false, "tickSize": 0, "labelPadding": 9, "labelBaseline": "middle", "labelFont": "DejaVu Sans Mono", "labelFontSize": 11, "labelColor": {"condition": {"test": "datum.value == 3 || datum.value == 27", "value": "#e2e2e2"}, "value": "#8a8a8a"}, "labelFlush": false, "labelOverlap": false, "labelBound": false, "zindex": 1}},
  "y": {"field": "lo", "type": "quantitative", "scale": {"domain": [0, 365], "nice": false, "zero": false},
   "axis": {"orient": "left", "values": [0,50,100,200,250,300,350], "title": null, "grid": false, "domainColor": "#a8a8a8", "domainWidth": 2.5, "tickColor": "#555555", "tickSize": 12, "tickWidth": 1, "labelPadding": 3, "labelFont": "DejaVu Sans", "labelFontSize": 10, "labelFontWeight": "bold", "labelColor": "#555555", "labelOverlap": false, "labelFlush": false, "labelSeparation": 0, "zindex": 1}},
  "y2": {"field": "hi"}}},
{"transform": [{"filter": "isValid(datum.v)"}], "mark": {"type": "rule", "color": "#b3b3b3", "strokeWidth": 2}, "encoding": {"x": {"field": "v", "type": "quantitative", "axis": null}}},
{"transform": [{"filter": "isValid(datum.d1)"}], "mark": {"type": "rule", "color": "#a0a0a0", "strokeWidth": 1.6}, "encoding": {"x": {"datum": 1.675, "type": "quantitative", "axis": null}, "x2": {"datum": 27}, "y": {"datum": 70, "type": "quantitative", "axis": null}}},
{"transform": [{"filter": "isValid(datum.g)"}], "mark": {"type": "square", "size": 10, "opacity": 1}, "encoding": {"x": {"field": "h", "type": "quantitative", "axis": null}, "y": {"field": "g", "type": "quantitative", "axis": null}, "color": {"condition": {"test": "datum.g < 70", "value": "#e04848"}, "value": "#88837f"}}},
{"transform": [{"filter": "isValid(datum.d1)"}], "mark": {"type": "rule", "color": "#45537a", "strokeWidth": 1.3}, "encoding": {"x": {"datum": 1.675, "type": "quantitative", "axis": null}, "x2": {"datum": 27}, "y": {"datum": 154, "type": "quantitative", "axis": null}}},
{"transform": [{"filter": "isValid(datum.md)"}], "mark": {"type": "line", "interpolate": "monotone", "color": "#1c2b55", "strokeWidth": 2}, "encoding": {"x": {"field": "h", "type": "quantitative", "axis": null}, "y": {"field": "md", "type": "quantitative", "axis": null}}},
{"transform": [{"filter": "isValid(datum.d1)"}], "mark": {"type": "rect", "color": "#3a3530"}, "encoding": {"x": {"datum": 2.2, "type": "quantitative", "axis": null}, "x2": {"datum": 3.7}, "y": {"datum": 395.9, "type": "quantitative", "axis": null}, "y2": {"datum": 373}}},
{"transform": [{"filter": "isValid(datum.d1)"}], "mark": {"type": "rect", "color": "#3a3530"}, "encoding": {"x": {"datum": 26.3, "type": "quantitative", "axis": null}, "x2": {"datum": 27.45}, "y": {"datum": 395.9, "type": "quantitative", "axis": null}, "y2": {"datum": 373}}},
{"transform": [{"filter": "isValid(datum.d1)"}], "mark": {"type": "text", "align": "left", "baseline": "middle", "font": "DejaVu Sans, Noto Sans CJK JP", "fontSize": 17, "fontWeight": "bold", "color": "#4a4a4a"}, "encoding": {"x": {"datum": 0.82, "type": "quantitative", "axis": null}, "y": {"datum": 429, "type": "quantitative", "axis": null}, "text": {"field": "d1"}}},
{"transform": [{"filter": "isValid(datum.d1)"}], "mark": {"type": "text", "align": "center", "baseline": "middle", "font": "Noto Sans CJK JP", "fontSize": 17, "fontWeight": "bold", "color": "#4a4a4a", "text": "－"}, "encoding": {"x": {"datum": 5.21, "type": "quantitative", "axis": null}, "y": {"datum": 429, "type": "quantitative", "axis": null}}},
{"transform": [{"filter": "isValid(datum.d1)"}], "mark": {"type": "text", "align": "left", "baseline": "middle", "font": "DejaVu Sans, Noto Sans CJK JP", "fontSize": 17, "fontWeight": "bold", "color": "#4a4a4a"}, "encoding": {"x": {"datum": 5.68, "type": "quantitative", "axis": null}, "y": {"datum": 429, "type": "quantitative", "axis": null}, "text": {"field": "d2"}}},
{"transform": [{"filter": "isValid(datum.d1)"}], "mark": {"type": "text", "align": "left", "baseline": "middle", "font": "Noto Sans CJK JP", "fontSize": 13, "color": "#8a8a8a", "text": "（15日）"}, "encoding": {"x": {"datum": 9.68, "type": "quantitative", "axis": null}, "y": {"datum": 428, "type": "quantitative", "axis": null}}},
{"transform": [{"filter": "isValid(datum.d1)"}], "mark": {"type": "text", "align": "left", "baseline": "middle", "font": "DejaVu Sans, Noto Sans CJK JP", "fontSize": 15, "fontWeight": "bold", "color": "#2c3d6e", "text": "推定A1c"}, "encoding": {"x": {"datum": 13.57, "type": "quantitative", "axis": null}, "y": {"datum": 430, "type": "quantitative", "axis": null}}},
{"transform": [{"filter": "isValid(datum.d1)"}], "mark": {"type": "rect", "fillOpacity": 0, "stroke": "#e02828", "strokeWidth": 2}, "encoding": {"x": {"datum": 15.7, "type": "quantitative", "axis": null}, "x2": {"datum": 18.19}, "y": {"datum": 462.6, "type": "quantitative", "axis": null}, "y2": {"datum": 400}}},
{"transform": [{"filter": "isValid(datum.d1)"}], "mark": {"type": "text", "align": "center", "baseline": "middle", "font": "DejaVu Sans Mono", "fontSize": 24, "fontWeight": "bold", "color": "#111111"}, "encoding": {"x": {"datum": 16.95, "type": "quantitative", "axis": null}, "y": {"datum": 428, "type": "quantitative", "axis": null}, "text": {"field": "a"}}},
{"transform": [{"filter": "isValid(datum.d1)"}], "mark": {"type": "text", "align": "left", "baseline": "middle", "font": "Noto Sans CJK JP", "fontSize": 24, "fontWeight": "bold", "color": "#111111", "text": "または"}, "encoding": {"x": {"datum": 18.34, "type": "quantitative", "axis": null}, "y": {"datum": 428, "type": "quantitative", "axis": null}}},
{"transform": [{"filter": "isValid(datum.d1)"}], "mark": {"type": "text", "align": "left", "baseline": "middle", "font": "DejaVu Sans", "fontSize": 24, "fontWeight": "bold", "color": "#111111"}, "encoding": {"x": {"datum": 20.77, "type": "quantitative", "axis": null}, "y": {"datum": 428, "type": "quantitative", "axis": null}, "text": {"field": "m"}}},
{"transform": [{"filter": "isValid(datum.d1)"}], "mark": {"type": "text", "align": "center", "baseline": "middle", "font": "DejaVu Sans", "fontSize": 25, "fontWeight": "bold", "color": "#111111", "text": "mmol/mol"}, "encoding": {"x": {"datum": 24.4, "type": "quantitative", "axis": null}, "y": {"datum": 428, "type": "quantitative", "axis": null}}},
{"transform": [{"filter": "isValid(datum.d1)"}], "mark": {"type": "text", "align": "right", "baseline": "middle", "font": "DejaVu Sans", "fontSize": 12, "fontWeight": "bold", "color": "#444444", "lineHeight": 11.5, "text": ["Glucose", "(mg/dL)"]}, "encoding": {"x": {"datum": 1.26, "type": "quantitative", "axis": null}, "y": {"datum": 352.1, "type": "quantitative", "axis": null}}},
{"transform": [{"filter": "isValid(datum.d1)"}], "mark": {"type": "text", "align": "right", "baseline": "middle", "font": "DejaVu Sans", "fontSize": 12, "fontWeight": "bold", "color": "#444444", "lineHeight": 10.8, "text": ["Target", "median", "value"]}, "encoding": {"x": {"datum": 1.26, "type": "quantitative", "axis": null}, "y": {"datum": 219.6, "type": "quantitative", "axis": null}}},
{"transform": [{"filter": "isValid(datum.d1)"}], "mark": {"type": "text", "align": "right", "baseline": "middle", "font": "DejaVu Sans", "fontSize": 12, "fontWeight": "bold", "color": "#3c3cc0", "text": "154"}, "encoding": {"x": {"datum": 1.26, "type": "quantitative", "axis": null}, "y": {"datum": 152.9, "type": "quantitative", "axis": null}}},
{"transform": [{"filter": "isValid(datum.d1)"}], "mark": {"type": "text", "align": "right", "baseline": "middle", "font": "DejaVu Sans", "fontSize": 12, "fontWeight": "bold", "color": "#444444", "lineHeight": 10, "text": ["Low", "threshold"]}, "encoding": {"x": {"datum": 1.26, "type": "quantitative", "axis": null}, "y": {"datum": 108, "type": "quantitative", "axis": null}}},
{"transform": [{"filter": "isValid(datum.d1)"}], "mark": {"type": "text", "align": "right", "baseline": "middle", "font": "DejaVu Sans", "fontSize": 12, "fontWeight": "bold", "color": "#3c3cc0", "text": "70"}, "encoding": {"x": {"datum": 1.2, "type": "quantitative", "axis": null}, "y": {"datum": 63.8, "type": "quantitative", "axis": null}}},
{"transform": [{"filter": "isValid(datum.d1)"}], "mark": {"type": "text", "align": "right", "baseline": "middle", "font": "DejaVu Sans", "fontSize": 6, "color": "#9a9a9a", "text": "mg/dL"}, "encoding": {"x": {"datum": 2.6, "type": "quantitative", "axis": null}, "y": {"datum": 330, "type": "quantitative", "axis": null}}}
]},
{"data": {"name": "d"}, "transform": [{"filter": "datum.p == 2"}], "width": 924, "height": 175, "resolve": {"axis": {"x": "independent", "y": "independent"}}, "layer": [
{"transform": [{"filter": "isValid(datum.md)"}], "mark": {"type": "area", "interpolate": "monotone", "color": "#d2d6e8"},
 "encoding": {
  "x": {"field": "h", "type": "quantitative", "scale": {"domain": [3, 27], "nice": false, "zero": false},
   "axis": {"orient": "top", "values": [3,5,7,9,11,13,15,17,19,21,23,25,27], "labelExpr": "(datum.value % 24 < 10 ? '0' : '') + (datum.value % 24) + ':00'", "title": null, "grid": false, "domain": false, "ticks": false, "tickSize": 0, "labelPadding": 9, "labelBaseline": "middle", "labelFont": "DejaVu Sans Mono", "labelFontSize": 11, "labelColor": {"condition": {"test": "datum.value == 3 || datum.value == 27", "value": "#e2e2e2"}, "value": "#8a8a8a"}, "labelFlush": false, "labelOverlap": false, "labelBound": false, "zindex": 1}},
  "y": {"field": "lo", "type": "quantitative", "scale": {"domain": [0, 365], "nice": false, "zero": false},
   "axis": {"orient": "left", "values": [0,50,100,200,250,300,350], "title": null, "grid": false, "domainColor": "#a8a8a8", "domainWidth": 2.5, "tickColor": "#555555", "tickSize": 12, "tickWidth": 1, "labelPadding": 3, "labelFont": "DejaVu Sans", "labelFontSize": 10, "labelFontWeight": "bold", "labelColor": "#555555", "labelOverlap": false, "labelFlush": false, "labelSeparation": 0, "zindex": 1}},
  "y2": {"field": "hi"}}},
{"transform": [{"filter": "isValid(datum.v)"}], "mark": {"type": "rule", "color": "#b3b3b3", "strokeWidth": 2}, "encoding": {"x": {"field": "v", "type": "quantitative", "axis": null}}},
{"transform": [{"filter": "isValid(datum.d1)"}], "mark": {"type": "rule", "color": "#a0a0a0", "strokeWidth": 1.6}, "encoding": {"x": {"datum": 1.675, "type": "quantitative", "axis": null}, "x2": {"datum": 27}, "y": {"datum": 70, "type": "quantitative", "axis": null}}},
{"transform": [{"filter": "isValid(datum.g)"}], "mark": {"type": "square", "size": 10, "opacity": 1}, "encoding": {"x": {"field": "h", "type": "quantitative", "axis": null}, "y": {"field": "g", "type": "quantitative", "axis": null}, "color": {"condition": {"test": "datum.g < 70", "value": "#e04848"}, "value": "#88837f"}}},
{"transform": [{"filter": "isValid(datum.d1)"}], "mark": {"type": "rule", "color": "#45537a", "strokeWidth": 1.3}, "encoding": {"x": {"datum": 1.675, "type": "quantitative", "axis": null}, "x2": {"datum": 27}, "y": {"datum": 154, "type": "quantitative", "axis": null}}},
{"transform": [{"filter": "isValid(datum.md)"}], "mark": {"type": "line", "interpolate": "monotone", "color": "#1c2b55", "strokeWidth": 2}, "encoding": {"x": {"field": "h", "type": "quantitative", "axis": null}, "y": {"field": "md", "type": "quantitative", "axis": null}}},
{"transform": [{"filter": "isValid(datum.d1)"}], "mark": {"type": "rect", "color": "#3a3530"}, "encoding": {"x": {"datum": 2.2, "type": "quantitative", "axis": null}, "x2": {"datum": 3.7}, "y": {"datum": 395.9, "type": "quantitative", "axis": null}, "y2": {"datum": 373}}},
{"transform": [{"filter": "isValid(datum.d1)"}], "mark": {"type": "rect", "color": "#3a3530"}, "encoding": {"x": {"datum": 26.3, "type": "quantitative", "axis": null}, "x2": {"datum": 27.45}, "y": {"datum": 395.9, "type": "quantitative", "axis": null}, "y2": {"datum": 373}}},
{"transform": [{"filter": "isValid(datum.d1)"}], "mark": {"type": "text", "align": "left", "baseline": "middle", "font": "DejaVu Sans, Noto Sans CJK JP", "fontSize": 17, "fontWeight": "bold", "color": "#4a4a4a"}, "encoding": {"x": {"datum": 0.82, "type": "quantitative", "axis": null}, "y": {"datum": 429, "type": "quantitative", "axis": null}, "text": {"field": "d1"}}},
{"transform": [{"filter": "isValid(datum.d1)"}], "mark": {"type": "text", "align": "center", "baseline": "middle", "font": "Noto Sans CJK JP", "fontSize": 17, "fontWeight": "bold", "color": "#4a4a4a", "text": "－"}, "encoding": {"x": {"datum": 5.21, "type": "quantitative", "axis": null}, "y": {"datum": 429, "type": "quantitative", "axis": null}}},
{"transform": [{"filter": "isValid(datum.d1)"}], "mark": {"type": "text", "align": "left", "baseline": "middle", "font": "DejaVu Sans, Noto Sans CJK JP", "fontSize": 17, "fontWeight": "bold", "color": "#4a4a4a"}, "encoding": {"x": {"datum": 5.68, "type": "quantitative", "axis": null}, "y": {"datum": 429, "type": "quantitative", "axis": null}, "text": {"field": "d2"}}},
{"transform": [{"filter": "isValid(datum.d1)"}], "mark": {"type": "text", "align": "left", "baseline": "middle", "font": "Noto Sans CJK JP", "fontSize": 13, "color": "#8a8a8a", "text": "（15日）"}, "encoding": {"x": {"datum": 9.68, "type": "quantitative", "axis": null}, "y": {"datum": 428, "type": "quantitative", "axis": null}}},
{"transform": [{"filter": "isValid(datum.d1)"}], "mark": {"type": "text", "align": "left", "baseline": "middle", "font": "DejaVu Sans, Noto Sans CJK JP", "fontSize": 15, "fontWeight": "bold", "color": "#2c3d6e", "text": "推定A1c"}, "encoding": {"x": {"datum": 13.57, "type": "quantitative", "axis": null}, "y": {"datum": 430, "type": "quantitative", "axis": null}}},
{"transform": [{"filter": "isValid(datum.d1)"}], "mark": {"type": "rect", "fillOpacity": 0, "stroke": "#e02828", "strokeWidth": 2}, "encoding": {"x": {"datum": 15.7, "type": "quantitative", "axis": null}, "x2": {"datum": 18.19}, "y": {"datum": 462.6, "type": "quantitative", "axis": null}, "y2": {"datum": 400}}},
{"transform": [{"filter": "isValid(datum.d1)"}], "mark": {"type": "text", "align": "center", "baseline": "middle", "font": "DejaVu Sans Mono", "fontSize": 24, "fontWeight": "bold", "color": "#111111"}, "encoding": {"x": {"datum": 16.95, "type": "quantitative", "axis": null}, "y": {"datum": 428, "type": "quantitative", "axis": null}, "text": {"field": "a"}}},
{"transform": [{"filter": "isValid(datum.d1)"}], "mark": {"type": "text", "align": "left", "baseline": "middle", "font": "Noto Sans CJK JP", "fontSize": 24, "fontWeight": "bold", "color": "#111111", "text": "または"}, "encoding": {"x": {"datum": 18.34, "type": "quantitative", "axis": null}, "y": {"datum": 428, "type": "quantitative", "axis": null}}},
{"transform": [{"filter": "isValid(datum.d1)"}], "mark": {"type": "text", "align": "left", "baseline": "middle", "font": "DejaVu Sans", "fontSize": 24, "fontWeight": "bold", "color": "#111111"}, "encoding": {"x": {"datum": 20.77, "type": "quantitative", "axis": null}, "y": {"datum": 428, "type": "quantitative", "axis": null}, "text": {"field": "m"}}},
{"transform": [{"filter": "isValid(datum.d1)"}], "mark": {"type": "text", "align": "center", "baseline": "middle", "font": "DejaVu Sans", "fontSize": 25, "fontWeight": "bold", "color": "#111111", "text": "mmol/mol"}, "encoding": {"x": {"datum": 24.4, "type": "quantitative", "axis": null}, "y": {"datum": 428, "type": "quantitative", "axis": null}}},
{"transform": [{"filter": "isValid(datum.d1)"}], "mark": {"type": "text", "align": "right", "baseline": "middle", "font": "DejaVu Sans", "fontSize": 12, "fontWeight": "bold", "color": "#444444", "lineHeight": 11.5, "text": ["Glucose", "(mg/dL)"]}, "encoding": {"x": {"datum": 1.26, "type": "quantitative", "axis": null}, "y": {"datum": 352.1, "type": "quantitative", "axis": null}}},
{"transform": [{"filter": "isValid(datum.d1)"}], "mark": {"type": "text", "align": "right", "baseline": "middle", "font": "DejaVu Sans", "fontSize": 12, "fontWeight": "bold", "color": "#444444", "lineHeight": 10.8, "text": ["Target", "median", "value"]}, "encoding": {"x": {"datum": 1.26, "type": "quantitative", "axis": null}, "y": {"datum": 219.6, "type": "quantitative", "axis": null}}},
{"transform": [{"filter": "isValid(datum.d1)"}], "mark": {"type": "text", "align": "right", "baseline": "middle", "font": "DejaVu Sans", "fontSize": 12, "fontWeight": "bold", "color": "#3c3cc0", "text": "154"}, "encoding": {"x": {"datum": 1.26, "type": "quantitative", "axis": null}, "y": {"datum": 152.9, "type": "quantitative", "axis": null}}},
{"transform": [{"filter": "isValid(datum.d1)"}], "mark": {"type": "text", "align": "right", "baseline": "middle", "font": "DejaVu Sans", "fontSize": 12, "fontWeight": "bold", "color": "#444444", "lineHeight": 10, "text": ["Low", "threshold"]}, "encoding": {"x": {"datum": 1.26, "type": "quantitative", "axis": null}, "y": {"datum": 108, "type": "quantitative", "axis": null}}},
{"transform": [{"filter": "isValid(datum.d1)"}], "mark": {"type": "text", "align": "right", "baseline": "middle", "font": "DejaVu Sans", "fontSize": 12, "fontWeight": "bold", "color": "#3c3cc0", "text": "70"}, "encoding": {"x": {"datum": 1.2, "type": "quantitative", "axis": null}, "y": {"datum": 63.8, "type": "quantitative", "axis": null}}},
{"transform": [{"filter": "isValid(datum.d1)"}], "mark": {"type": "text", "align": "right", "baseline": "middle", "font": "DejaVu Sans", "fontSize": 6, "color": "#9a9a9a", "text": "mg/dL"}, "encoding": {"x": {"datum": 2.6, "type": "quantitative", "axis": null}, "y": {"datum": 330, "type": "quantitative", "axis": null}}}
]},
{"data": {"name": "d"}, "transform": [{"filter": "datum.p == 3"}], "width": 924, "height": 175, "resolve": {"axis": {"x": "independent", "y": "independent"}}, "layer": [
{"transform": [{"filter": "isValid(datum.md)"}], "mark": {"type": "area", "interpolate": "monotone", "color": "#d2d6e8"},
 "encoding": {
  "x": {"field": "h", "type": "quantitative", "scale": {"domain": [3, 27], "nice": false, "zero": false},
   "axis": {"orient": "top", "values": [3,5,7,9,11,13,15,17,19,21,23,25,27], "labelExpr": "(datum.value % 24 < 10 ? '0' : '') + (datum.value % 24) + ':00'", "title": null, "grid": false, "domain": false, "ticks": false, "tickSize": 0, "labelPadding": 9, "labelBaseline": "middle", "labelFont": "DejaVu Sans Mono", "labelFontSize": 11, "labelColor": {"condition": {"test": "datum.value == 3 || datum.value == 27", "value": "#e2e2e2"}, "value": "#8a8a8a"}, "labelFlush": false, "labelOverlap": false, "labelBound": false, "zindex": 1}},
  "y": {"field": "lo", "type": "quantitative", "scale": {"domain": [0, 365], "nice": false, "zero": false},
   "axis": {"orient": "left", "values": [0,50,100,200,250,300,350], "title": null, "grid": false, "domainColor": "#a8a8a8", "domainWidth": 2.5, "tickColor": "#555555", "tickSize": 12, "tickWidth": 1, "labelPadding": 3, "labelFont": "DejaVu Sans", "labelFontSize": 10, "labelFontWeight": "bold", "labelColor": "#555555", "labelOverlap": false, "labelFlush": false, "labelSeparation": 0, "zindex": 1}},
  "y2": {"field": "hi"}}},
{"transform": [{"filter": "isValid(datum.v)"}], "mark": {"type": "rule", "color": "#b3b3b3", "strokeWidth": 2}, "encoding": {"x": {"field": "v", "type": "quantitative", "axis": null}}},
{"transform": [{"filter": "isValid(datum.d1)"}], "mark": {"type": "rule", "color": "#a0a0a0", "strokeWidth": 1.6}, "encoding": {"x": {"datum": 1.675, "type": "quantitative", "axis": null}, "x2": {"datum": 27}, "y": {"datum": 70, "type": "quantitative", "axis": null}}},
{"transform": [{"filter": "isValid(datum.g)"}], "mark": {"type": "square", "size": 10, "opacity": 1}, "encoding": {"x": {"field": "h", "type": "quantitative", "axis": null}, "y": {"field": "g", "type": "quantitative", "axis": null}, "color": {"condition": {"test": "datum.g < 70", "value": "#e04848"}, "value": "#88837f"}}},
{"transform": [{"filter": "isValid(datum.d1)"}], "mark": {"type": "rule", "color": "#45537a", "strokeWidth": 1.3}, "encoding": {"x": {"datum": 1.675, "type": "quantitative", "axis": null}, "x2": {"datum": 27}, "y": {"datum": 154, "type": "quantitative", "axis": null}}},
{"transform": [{"filter": "isValid(datum.md)"}], "mark": {"type": "line", "interpolate": "monotone", "color": "#1c2b55", "strokeWidth": 2}, "encoding": {"x": {"field": "h", "type": "quantitative", "axis": null}, "y": {"field": "md", "type": "quantitative", "axis": null}}},
{"transform": [{"filter": "isValid(datum.d1)"}], "mark": {"type": "rect", "color": "#3a3530"}, "encoding": {"x": {"datum": 2.2, "type": "quantitative", "axis": null}, "x2": {"datum": 3.7}, "y": {"datum": 395.9, "type": "quantitative", "axis": null}, "y2": {"datum": 373}}},
{"transform": [{"filter": "isValid(datum.d1)"}], "mark": {"type": "rect", "color": "#3a3530"}, "encoding": {"x": {"datum": 26.3, "type": "quantitative", "axis": null}, "x2": {"datum": 27.45}, "y": {"datum": 395.9, "type": "quantitative", "axis": null}, "y2": {"datum": 373}}},
{"transform": [{"filter": "isValid(datum.d1)"}], "mark": {"type": "text", "align": "left", "baseline": "middle", "font": "DejaVu Sans, Noto Sans CJK JP", "fontSize": 17, "fontWeight": "bold", "color": "#4a4a4a"}, "encoding": {"x": {"datum": 0.82, "type": "quantitative", "axis": null}, "y": {"datum": 429, "type": "quantitative", "axis": null}, "text": {"field": "d1"}}},
{"transform": [{"filter": "isValid(datum.d1)"}], "mark": {"type": "text", "align": "center", "baseline": "middle", "font": "Noto Sans CJK JP", "fontSize": 17, "fontWeight": "bold", "color": "#4a4a4a", "text": "－"}, "encoding": {"x": {"datum": 5.21, "type": "quantitative", "axis": null}, "y": {"datum": 429, "type": "quantitative", "axis": null}}},
{"transform": [{"filter": "isValid(datum.d1)"}], "mark": {"type": "text", "align": "left", "baseline": "middle", "font": "DejaVu Sans, Noto Sans CJK JP", "fontSize": 17, "fontWeight": "bold", "color": "#4a4a4a"}, "encoding": {"x": {"datum": 5.68, "type": "quantitative", "axis": null}, "y": {"datum": 429, "type": "quantitative", "axis": null}, "text": {"field": "d2"}}},
{"transform": [{"filter": "isValid(datum.d1)"}], "mark": {"type": "text", "align": "left", "baseline": "middle", "font": "Noto Sans CJK JP", "fontSize": 13, "color": "#8a8a8a", "text": "（15日）"}, "encoding": {"x": {"datum": 9.68, "type": "quantitative", "axis": null}, "y": {"datum": 428, "type": "quantitative", "axis": null}}},
{"transform": [{"filter": "isValid(datum.d1)"}], "mark": {"type": "text", "align": "left", "baseline": "middle", "font": "DejaVu Sans, Noto Sans CJK JP", "fontSize": 15, "fontWeight": "bold", "color": "#2c3d6e", "text": "推定A1c"}, "encoding": {"x": {"datum": 13.57, "type": "quantitative", "axis": null}, "y": {"datum": 430, "type": "quantitative", "axis": null}}},
{"transform": [{"filter": "isValid(datum.d1)"}], "mark": {"type": "rect", "fillOpacity": 0, "stroke": "#e02828", "strokeWidth": 2}, "encoding": {"x": {"datum": 15.7, "type": "quantitative", "axis": null}, "x2": {"datum": 18.19}, "y": {"datum": 462.6, "type": "quantitative", "axis": null}, "y2": {"datum": 400}}},
{"transform": [{"filter": "isValid(datum.d1)"}], "mark": {"type": "text", "align": "center", "baseline": "middle", "font": "DejaVu Sans Mono", "fontSize": 24, "fontWeight": "bold", "color": "#111111"}, "encoding": {"x": {"datum": 16.95, "type": "quantitative", "axis": null}, "y": {"datum": 428, "type": "quantitative", "axis": null}, "text": {"field": "a"}}},
{"transform": [{"filter": "isValid(datum.d1)"}], "mark": {"type": "text", "align": "left", "baseline": "middle", "font": "Noto Sans CJK JP", "fontSize": 24, "fontWeight": "bold", "color": "#111111", "text": "または"}, "encoding": {"x": {"datum": 18.34, "type": "quantitative", "axis": null}, "y": {"datum": 428, "type": "quantitative", "axis": null}}},
{"transform": [{"filter": "isValid(datum.d1)"}], "mark": {"type": "text", "align": "left", "baseline": "middle", "font": "DejaVu Sans", "fontSize": 24, "fontWeight": "bold", "color": "#111111"}, "encoding": {"x": {"datum": 20.77, "type": "quantitative", "axis": null}, "y": {"datum": 428, "type": "quantitative", "axis": null}, "text": {"field": "m"}}},
{"transform": [{"filter": "isValid(datum.d1)"}], "mark": {"type": "text", "align": "center", "baseline": "middle", "font": "DejaVu Sans", "fontSize": 25, "fontWeight": "bold", "color": "#111111", "text": "mmol/mol"}, "encoding": {"x": {"datum": 24.4, "type": "quantitative", "axis": null}, "y": {"datum": 428, "type": "quantitative", "axis": null}}},
{"transform": [{"filter": "isValid(datum.d1)"}], "mark": {"type": "text", "align": "right", "baseline": "middle", "font": "DejaVu Sans", "fontSize": 12, "fontWeight": "bold", "color": "#444444", "lineHeight": 11.5, "text": ["Glucose", "(mg/dL)"]}, "encoding": {"x": {"datum": 1.26, "type": "quantitative", "axis": null}, "y": {"datum": 352.1, "type": "quantitative", "axis": null}}},
{"transform": [{"filter": "isValid(datum.d1)"}], "mark": {"type": "text", "align": "right", "baseline": "middle", "font": "DejaVu Sans", "fontSize": 12, "fontWeight": "bold", "color": "#444444", "lineHeight": 10.8, "text": ["Target", "median", "value"]}, "encoding": {"x": {"datum": 1.26, "type": "quantitative", "axis": null}, "y": {"datum": 219.6, "type": "quantitative", "axis": null}}},
{"transform": [{"filter": "isValid(datum.d1)"}], "mark": {"type": "text", "align": "right", "baseline": "middle", "font": "DejaVu Sans", "fontSize": 12, "fontWeight": "bold", "color": "#3c3cc0", "text": "154"}, "encoding": {"x": {"datum": 1.26, "type": "quantitative", "axis": null}, "y": {"datum": 152.9, "type": "quantitative", "axis": null}}},
{"transform": [{"filter": "isValid(datum.d1)"}], "mark": {"type": "text", "align": "right", "baseline": "middle", "font": "DejaVu Sans", "fontSize": 12, "fontWeight": "bold", "color": "#444444", "lineHeight": 10, "text": ["Low", "threshold"]}, "encoding": {"x": {"datum": 1.26, "type": "quantitative", "axis": null}, "y": {"datum": 108, "type": "quantitative", "axis": null}}},
{"transform": [{"filter": "isValid(datum.d1)"}], "mark": {"type": "text", "align": "right", "baseline": "middle", "font": "DejaVu Sans", "fontSize": 12, "fontWeight": "bold", "color": "#3c3cc0", "text": "70"}, "encoding": {"x": {"datum": 1.2, "type": "quantitative", "axis": null}, "y": {"datum": 63.8, "type": "quantitative", "axis": null}}},
{"transform": [{"filter": "isValid(datum.d1)"}], "mark": {"type": "text", "align": "right", "baseline": "middle", "font": "DejaVu Sans", "fontSize": 6, "color": "#9a9a9a", "text": "mg/dL"}, "encoding": {"x": {"datum": 2.6, "type": "quantitative", "axis": null}, "y": {"datum": 330, "type": "quantitative", "axis": null}}}
]}
]
}
